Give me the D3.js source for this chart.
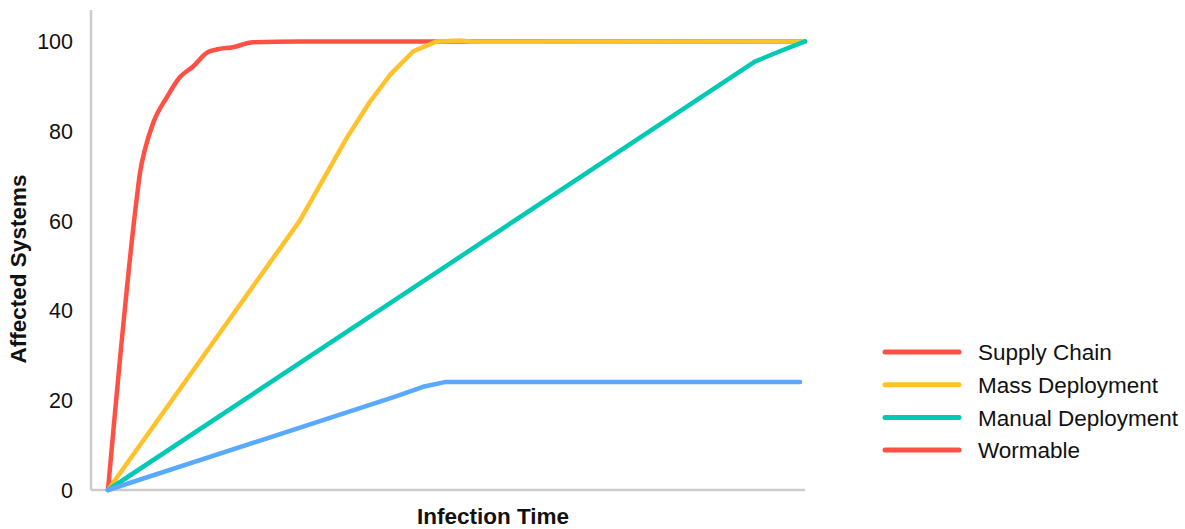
<!DOCTYPE html>
<html lang="en">
<head>
<meta charset="UTF-8">
<script src="https://d3js.org/d3.v7.min.js"></script>
<style>
    body { margin: 0; background: #fff; }
    svg { display: block; font-family: "Liberation Sans", Arial, Helvetica, sans-serif; }
    .tick-label { font-size: 21.5px; fill: #111; }
    .axis-title { font-size: 22.5px; font-weight: bold; fill: #111; }
    .legend-label { font-size: 22.5px; fill: #111; }
    .series { fill: none; stroke-width: 4.5px; stroke-linejoin: round; stroke-linecap: round; }
</style>
</head>
<body>
<svg id="chart" width="1185" height="529"></svg>
<script>
    // infection time (0-100) and affected systems (%)
    const wormableTime = [0, 4.1, 4.6, 5.3, 6.5, 8.5, 10.3, 12.2, 14.2, 15.6, 17.9, 20.8, 27.5, 100];
    const wormableValues = [0, 64.7, 70.8, 75.9, 81.9, 87.7, 92, 94.4, 97.5, 98.2, 98.7, 99.8, 100, 100];

    const massTime = [0, 27.5, 34.3, 37.6, 40.5, 43.8, 47.2, 50.5, 52.4, 100];
    const massValues = [0, 60, 78.6, 86.6, 92.6, 97.8, 100, 100.2, 99.9, 100];

    const manualTime = [0, 92.8, 96.4, 100];
    const manualValues = [0, 95.5, 97.8, 100];

    const supplyTime = [0, 41.2, 45.2, 48.5, 99.3];
    const supplyValues = [0, 20.8, 23, 24.1, 24.1];

    const yTicks = [0, 20, 40, 60, 80, 100];
    const legendNames = ["Supply Chain", "Mass Deployment", "Manual Deployment", "Wormable"];
    const legendColors = ["#ff5044", "#ffc22a", "#00c9b4", "#ff5044"];

    const svg = d3.select("#chart");

    const axisLeft = 91, axisRight = 805, axisTop = 10, axisBottom = 490;

    const x = d3.scaleLinear().domain([0, 100]).range([108, 805]);
    const y = d3.scaleLinear().domain([0, 107]).range([axisBottom, axisTop]);

    const line = d3.line()
        .x(d => x(d[0]))
        .y(d => y(d[1]));
    const smoothLine = d3.line()
        .x(d => x(d[0]))
        .y(d => y(d[1]))
        .curve(d3.curveMonotoneX);

    const series = [
        { t: wormableTime, v: wormableValues, color: "#ff5044", gen: smoothLine },
        { t: massTime, v: massValues, color: "#ffc22a", gen: line },
        { t: manualTime, v: manualValues, color: "#00c9b4", gen: line },
        { t: supplyTime, v: supplyValues, color: "#58a9ff", gen: line }
    ];

    //axis lines
    svg.append("line")
        .attr("x1", axisLeft).attr("x2", axisLeft)
        .attr("y1", axisTop).attr("y2", axisBottom)
        .attr("stroke", "#cccccc").attr("stroke-width", 2.5);
    svg.append("line")
        .attr("x1", axisLeft).attr("x2", axisRight)
        .attr("y1", axisBottom).attr("y2", axisBottom)
        .attr("stroke", "#cccccc").attr("stroke-width", 2.5);

    //y tick labels
    svg.selectAll("text.tick-label").data(yTicks)
        .join("text")
        .attr("class", "tick-label")
        .attr("x", 73)
        .attr("y", d => y(d))
        .attr("dy", "0.36em")
        .attr("text-anchor", "end")
        .text(d => d);

    //lines
    series.forEach(s => {
        svg.append("path")
            .datum(s.t.map((t, i) => [t, s.v[i]]))
            .attr("class", "series")
            .attr("stroke", s.color)
            .attr("d", s.gen);
    });

    //axis titles
    svg.append("text")
        .attr("class", "axis-title")
        .attr("x", 493).attr("y", 524)
        .attr("text-anchor", "middle")
        .text("Infection Time");
    svg.append("text")
        .attr("class", "axis-title")
        .attr("transform", "translate(26,269) rotate(-90)")
        .attr("text-anchor", "middle")
        .text("Affected Systems");

    //legend
    const legend = svg.append("g");
    legendNames.forEach((name, i) => {
        const ly = 352 + i * 32.7;
        legend.append("line")
            .attr("x1", 885).attr("x2", 959)
            .attr("y1", ly).attr("y2", ly)
            .attr("stroke", legendColors[i])
            .attr("stroke-width", 5)
            .attr("stroke-linecap", "round");
        legend.append("text")
            .attr("class", "legend-label")
            .attr("x", 978).attr("y", ly)
            .attr("dy", "0.36em")
            .text(name);
    });
</script>
</body>
</html>
